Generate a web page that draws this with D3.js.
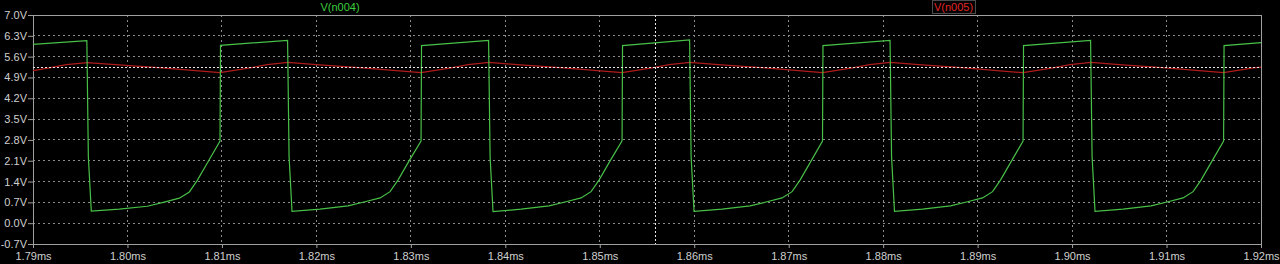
<!DOCTYPE html>
<meta charset="utf-8">
<style>
  html, body { margin: 0; padding: 0; background: #000; }
  svg { display: block; }
</style>

<!-- Load d3.js -->
<script src="https://d3js.org/d3.v7.min.js"></script>

<div id="my_dataviz"></div>
<script>

// tick values of the two axes
var xTicks = [1.79, 1.80, 1.81, 1.82, 1.83, 1.84, 1.85, 1.86, 1.87, 1.88, 1.89, 1.90, 1.91, 1.92]
var yTicks = [-0.7, 0.0, 0.7, 1.4, 2.1, 2.8, 3.5, 4.2, 4.9, 5.6, 6.3, 7.0]

// V(n004) : time (ms) and voltage (V)
var n004Time = [
  1.79000, 1.79570, 1.79586, 1.79617, 1.79914, 1.80210, 1.80390, 1.80549, 1.80655, 1.80739, 1.80861,
  1.80980, 1.80985, 1.81695, 1.81711, 1.81742, 1.82039, 1.82335, 1.82515, 1.82674, 1.82780, 1.82864, 1.82986,
  1.83108, 1.83113, 1.83823, 1.83839, 1.83870, 1.84167, 1.84463, 1.84643, 1.84802, 1.84908, 1.84992, 1.85114,
  1.85236, 1.85241, 1.85951, 1.85967, 1.85998, 1.86295, 1.86591, 1.86771, 1.86930, 1.87036, 1.87120, 1.87242,
  1.87358, 1.87363, 1.88073, 1.88089, 1.88120, 1.88417, 1.88713, 1.88893, 1.89052, 1.89158, 1.89242, 1.89364,
  1.89481, 1.89486, 1.90196, 1.90212, 1.90243, 1.90540, 1.90836, 1.91016, 1.91175, 1.91281, 1.91365, 1.91487,
  1.91604, 1.91609, 1.92000]
var n004Volt = [
  6.01, 6.14, 2.23, 0.41, 0.47, 0.57, 0.71, 0.84, 1.05, 1.44, 2.11,
  2.76, 5.98, 6.15, 2.23, 0.40, 0.47, 0.58, 0.72, 0.85, 1.06, 1.45, 2.12,
  2.76, 5.97, 6.15, 2.23, 0.39, 0.47, 0.58, 0.72, 0.85, 1.06, 1.45, 2.12,
  2.77, 5.97, 6.16, 2.23, 0.40, 0.47, 0.58, 0.72, 0.85, 1.06, 1.45, 2.12,
  2.76, 5.97, 6.15, 2.23, 0.40, 0.47, 0.58, 0.72, 0.85, 1.06, 1.45, 2.12,
  2.76, 5.97, 6.15, 2.23, 0.40, 0.47, 0.58, 0.72, 0.85, 1.06, 1.45, 2.12,
  2.76, 5.97, 6.07]

// V(n005)
var n005Time = [
  1.79000, 1.79173, 1.79353, 1.79575, 1.79872, 1.80327,
  1.80980, 1.81298, 1.81478, 1.81700, 1.81997, 1.82452,
  1.83108, 1.83426, 1.83606, 1.83828, 1.84125, 1.84580,
  1.85236, 1.85554, 1.85734, 1.85956, 1.86253, 1.86708,
  1.87358, 1.87676, 1.87856, 1.88078, 1.88375, 1.88830,
  1.89481, 1.89799, 1.89979, 1.90201, 1.90498, 1.90953,
  1.91604, 1.91922, 1.92000]
var n005Volt = [
  5.13, 5.22, 5.33, 5.40, 5.33, 5.23,
  5.06, 5.22, 5.33, 5.41, 5.33, 5.23,
  5.06, 5.22, 5.33, 5.41, 5.33, 5.23,
  5.06, 5.22, 5.33, 5.41, 5.33, 5.23,
  5.06, 5.22, 5.33, 5.41, 5.33, 5.23,
  5.06, 5.22, 5.33, 5.41, 5.33, 5.23,
  5.06, 5.22, 5.25]

// cursor position
var cursorTime = 1.85585
var cursorVolt = 5.24

// set the dimensions and margins of the graph
var margin = {top: 15, right: 19, bottom: 20, left: 33},
    width = 1280 - margin.left - margin.right,
    height = 264 - margin.top - margin.bottom;

var svgRoot = d3.select("#my_dataviz")
  .append("svg")
    .attr("width", 1280)
    .attr("height", 264)
    .style("background", "#000")

var svg = svgRoot.append("g")
    .attr("transform", "translate(" + margin.left + "," + margin.top + ")");

var x = d3.scaleLinear().domain([1.79, 1.92]).range([0, width])
var y = d3.scaleLinear().domain([-0.7, 7.0]).range([height, 0])

var font = "'Liberation Sans', Arial, sans-serif"

// grid
svg.append("g")
  .selectAll("line")
  .data(xTicks.slice(1, -1))
  .enter().append("line")
    .attr("x1", function(d) { return x(d) }).attr("x2", function(d) { return x(d) })
    .attr("y1", 0).attr("y2", height)
    .attr("stroke", "#8a8a8a").attr("stroke-dasharray", "2,3").attr("shape-rendering", "crispEdges")
svg.append("g")
  .selectAll("line")
  .data(yTicks.slice(1, -1))
  .enter().append("line")
    .attr("y1", function(d) { return y(d) }).attr("y2", function(d) { return y(d) })
    .attr("x1", 0).attr("x2", width)
    .attr("stroke", "#8a8a8a").attr("stroke-dasharray", "2,3").attr("shape-rendering", "crispEdges")

// axes
var yAxis = svg.append("g")
  .call(d3.axisLeft(y).tickValues(yTicks).tickSize(5).tickPadding(1)
    .tickFormat(function(d) { return d.toFixed(1) + "V" }))
var xAxis = svg.append("g")
  .attr("transform", "translate(0," + height + ")")
  .call(d3.axisBottom(x).tickValues(xTicks).tickSize(4).tickPadding(4)
    .tickFormat(function(d) { return d.toFixed(2) + "ms" }))
;[yAxis, xAxis].forEach(function(a) {
  a.select(".domain").remove()
  a.selectAll("line").attr("stroke", "#a0a0a0")
  a.selectAll("text").attr("fill", "#cfcfcf").style("font-family", font).style("font-size", "11px")
})

// frame
svg.append("rect")
  .attr("x", 0).attr("y", 0).attr("width", width).attr("height", height)
  .attr("fill", "none").attr("stroke", "#a0a0a0").attr("shape-rendering", "crispEdges")

// traces
var line = d3.line()
  .x(function(d) { return x(d[0]) })
  .y(function(d) { return y(d[1]) })

svg.append("path")
  .datum(n005Time.map(function(t, i) { return [t, n005Volt[i]] }))
  .attr("fill", "none").attr("stroke", "#b01c1c").attr("stroke-width", 1.2)
  .attr("d", line)

svg.append("path")
  .datum(n004Time.map(function(t, i) { return [t, n004Volt[i]] }))
  .attr("fill", "none").attr("stroke", "#48c048").attr("stroke-width", 1.2)
  .attr("d", line)

// cursor
svg.append("line")
  .attr("x1", x(cursorTime)).attr("x2", x(cursorTime)).attr("y1", 0).attr("y2", height)
  .attr("stroke", "#e8e8e8").attr("stroke-dasharray", "2,2").attr("shape-rendering", "crispEdges")
svg.append("line")
  .attr("x1", 0).attr("x2", width).attr("y1", y(cursorVolt)).attr("y2", y(cursorVolt))
  .attr("stroke", "#e8e8e8").attr("stroke-dasharray", "2,2").attr("shape-rendering", "crispEdges")

// trace labels
svgRoot.append("text")
  .attr("x", 340).attr("y", 10.5).attr("text-anchor", "middle")
  .attr("fill", "#3ccf3c").style("font-family", font).style("font-size", "11px")
  .text("V(n004)")

svgRoot.append("rect")
  .attr("x", 932.5).attr("y", 0.5).attr("width", 43).attr("height", 13)
  .attr("fill", "none").attr("stroke", "#9a9a9a").attr("stroke-dasharray", "1,1")
svgRoot.append("text")
  .attr("x", 953.5).attr("y", 10.5).attr("text-anchor", "middle")
  .attr("fill", "#e02828").style("font-family", font).style("font-size", "11px")
  .text("V(n005)")

</script>
